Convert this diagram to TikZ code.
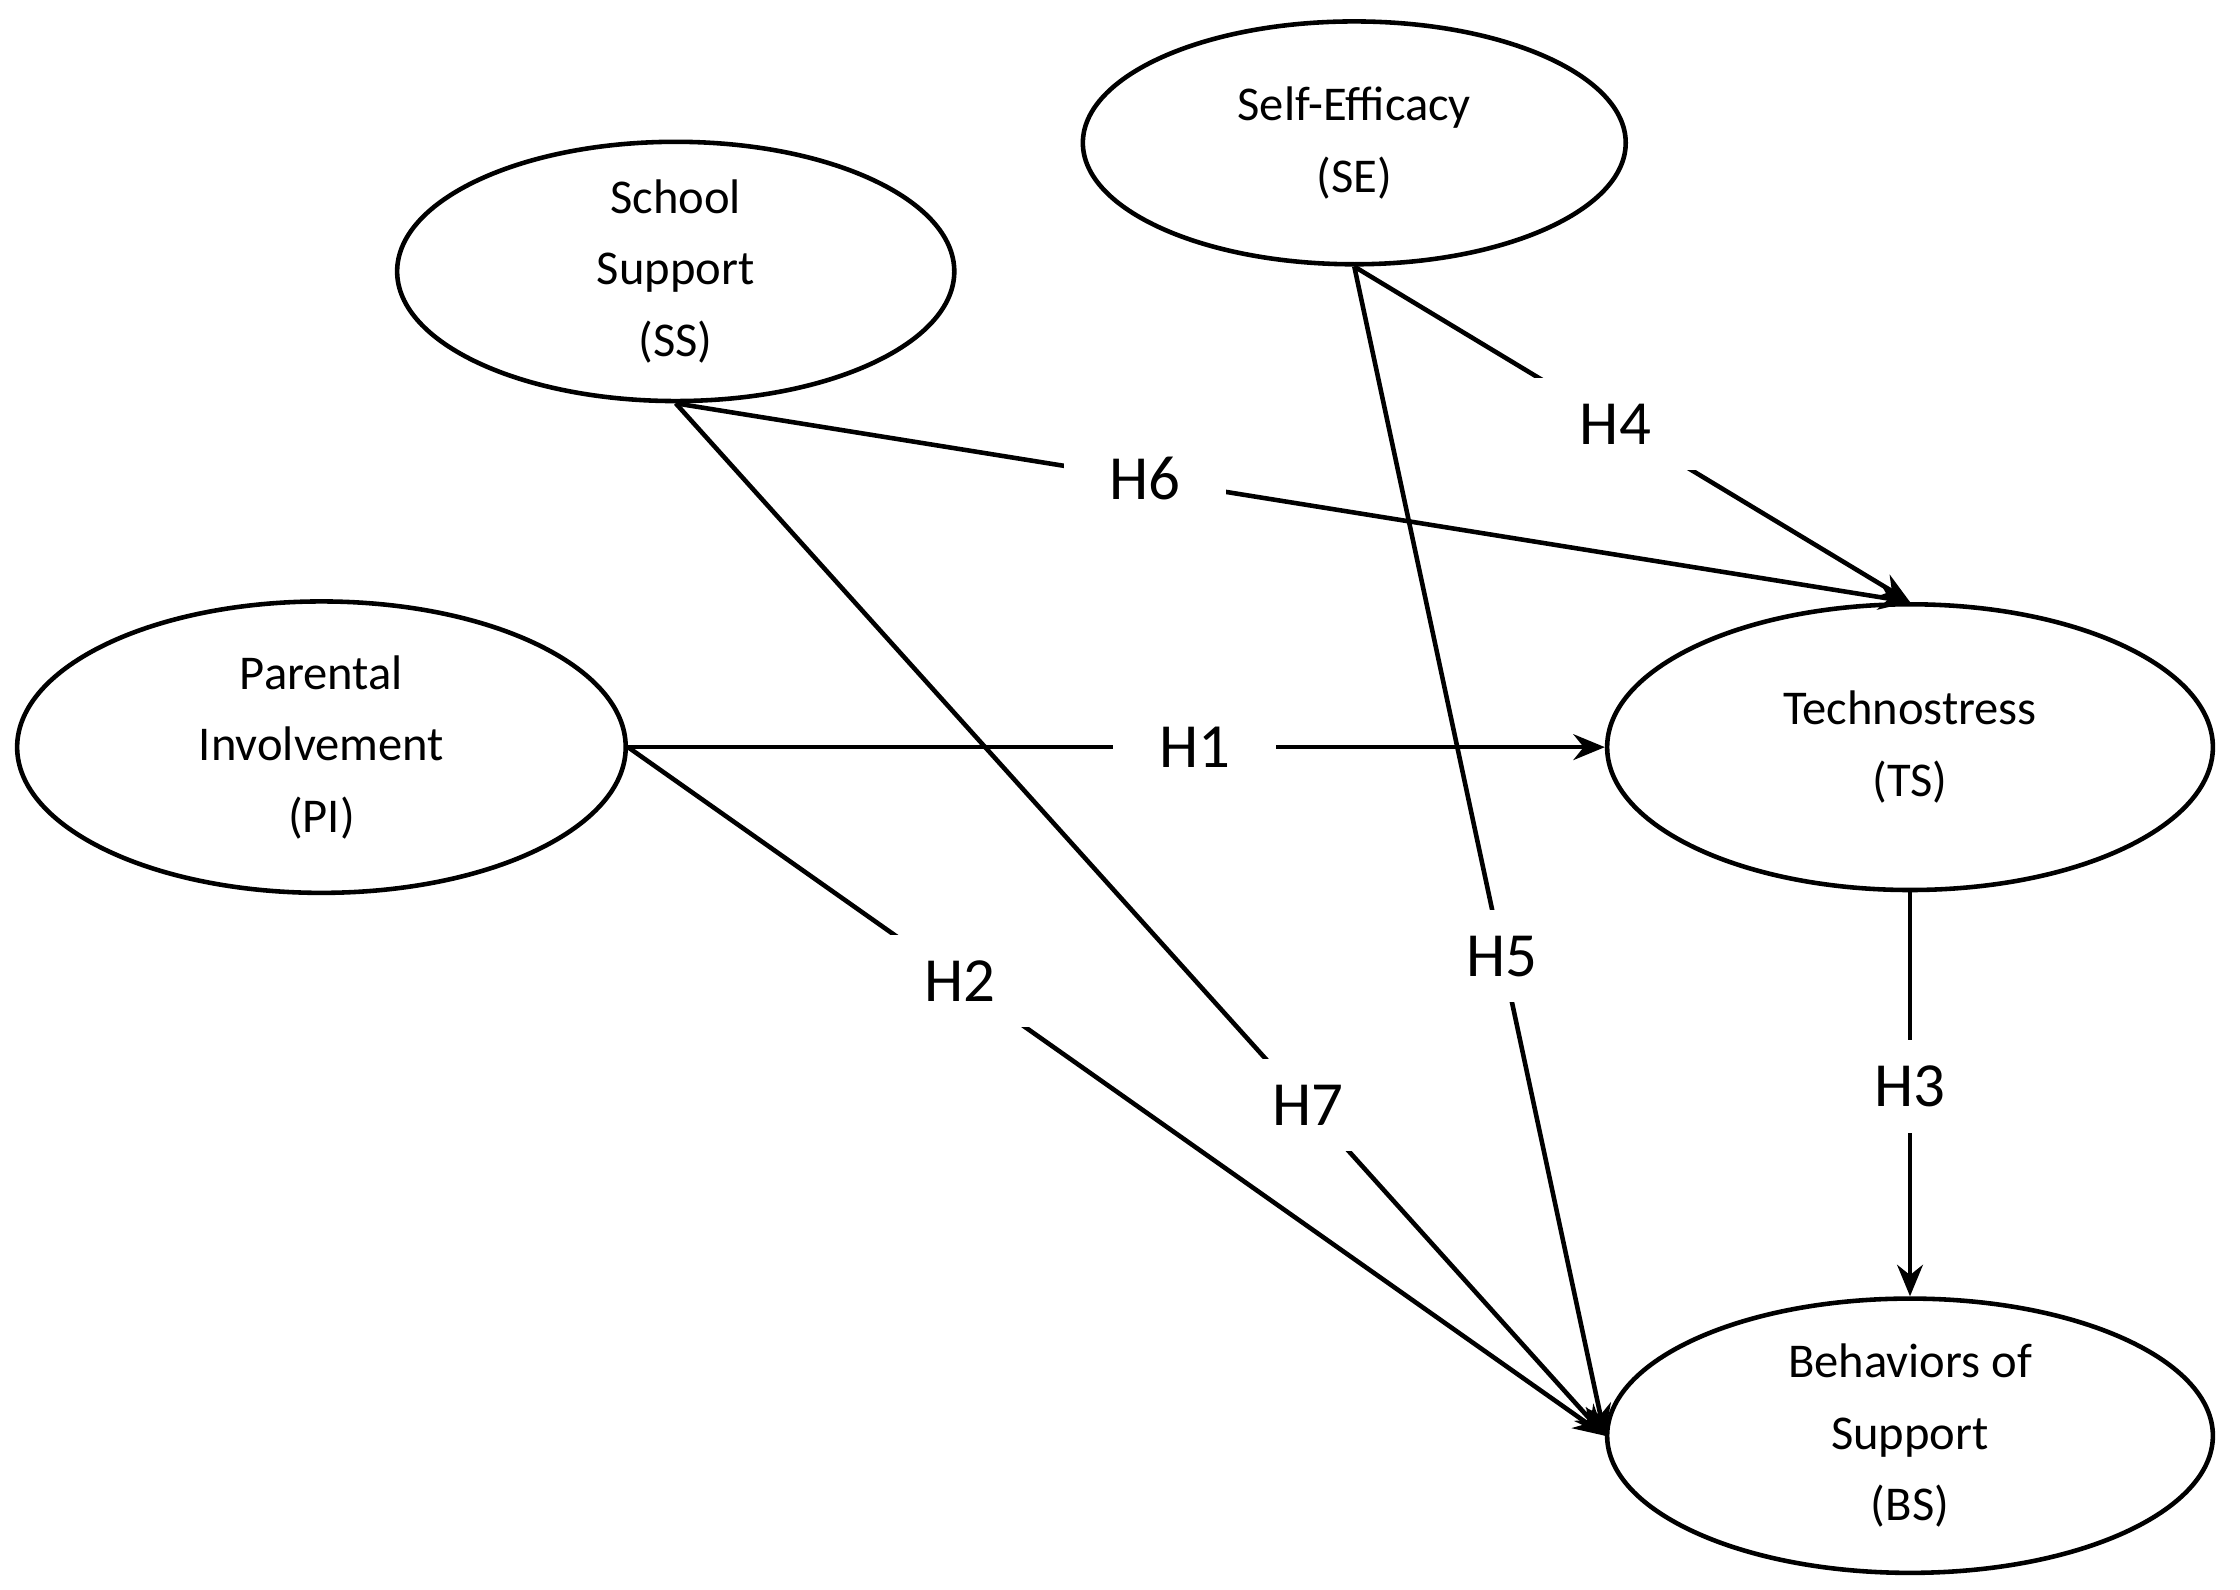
\documentclass[tikz,border=0pt]{standalone}
\usepackage{fontspec}
\setmainfont{Carlito}
\usetikzlibrary{shapes.geometric,arrows.meta}
\begin{document}
\begin{tikzpicture}[x=0.5pt,y=-0.5pt,
  construct/.style={draw,ellipse,line width=1.6pt,inner sep=0pt,align=center,font=\fontsize{17}{25}\selectfont},
  link/.style={line width=1.6pt,-{Stealth[length=11pt,width=9pt]}},
  hlab/.style={fill=white,inner xsep=16pt,inner ysep=9pt,font=\fontsize{22}{26}\selectfont}]
\useasboundingbox (0,0) rectangle (1568,1113);
\node[construct,minimum width=190pt,minimum height=85pt] (se) at (948,100) {Self-Efficacy\\(SE)};
\node[construct,minimum width=195pt,minimum height=86pt] (ss) at (473,190) {School\\Support\\(SS)};
\node[construct,minimum width=213pt,minimum height=102pt] (pi) at (225,523) {Parental\\Involvement\\(PI)};
\node[construct,minimum width=212pt,minimum height=100pt] (ts) at (1337,523) {Technostress\\(TS)};
\node[construct,minimum width=212pt,minimum height=96pt] (bs) at (1337,1005) {Behaviors of\\Support\\(BS)};
\draw[link] (se.south) -- node[hlab,pos=0.59] {H5} (bs.west);
\draw[link] (ss.south) -- node[hlab,pos=0.68] {H7} (bs.west);
\draw[link] (pi.east) -- node[hlab,pos=0.34] {H2} (bs.west);
\draw[link] (se.south) -- node[hlab,pos=0.47] {H4} (ts.north);
\draw[link] (ss.south) -- node[hlab,pos=0.38] {H6} (ts.north);
\draw[link] (pi.east) -- node[hlab,pos=0.58] {H1} (ts.west);
\draw[link] (ts.south) -- node[hlab,pos=0.48] {H3} (bs.north);
\end{tikzpicture}
\end{document}
